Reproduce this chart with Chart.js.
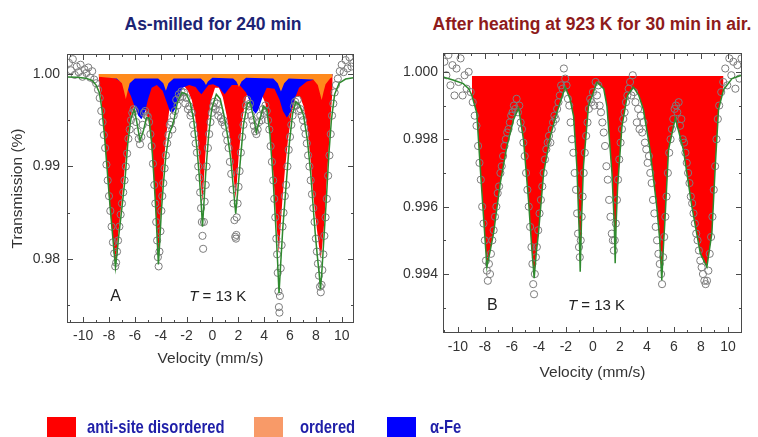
<!DOCTYPE html>
<html>
<head>
<meta charset="utf-8">
<script src="https://cdn.jsdelivr.net/npm/chart.js@4.4.0/dist/chart.umd.min.js"></script>
<style>
  html, body { margin: 0; padding: 0; background: #fff; }
  body { width: 758px; height: 437px; position: relative; overflow: hidden; font-family: 'Liberation Sans', Arial, sans-serif; }
  #wrapA { position: absolute; left: 0; top: 0; width: 380px; height: 437px; }
  #wrapB { position: absolute; left: 380px; top: 0; width: 378px; height: 437px; }
  .title { position: absolute; top: 14px; font-weight: bold; font-size: 17.5px; white-space: nowrap; transform: translateX(-50%); }
  .sw { position: absolute; top: 417px; width: 29px; height: 20px; }
  .lt { position: absolute; top: 416px; font-weight: bold; font-size: 19px; line-height: 22px; color: #1f1fa8; white-space: nowrap; transform: scaleX(0.78); transform-origin: left center; }
</style>
</head>
<body>
<div class="title" style="left:213px;color:#1c2474">As-milled for 240 min</div>
<div class="title" style="left:592px;color:#8e1b1b">After heating at 923 K for 30 min in air.</div>
<div id="wrapA"><canvas id="chartA" width="380" height="437"></canvas></div>
<div id="wrapB"><canvas id="chartB" width="378" height="437"></canvas></div>
<div id="legend"></div>
<script>
const xTicks = [-10, -8, -6, -4, -2, 0, 2, 4, 6, 8, 10];
const xMinor = [-11, -9, -7, -5, -3, -1, 1, 3, 5, 7, 9, 11];
const yTicksA = [0.98, 0.99, 1.00];
const yMinorA = [0.975, 0.985, 0.995];
const yTicksB = [0.994, 0.996, 0.998, 1.000];
const yMinorB = [0.993, 0.995, 0.997, 0.999];

const legendLabels = ['anti-site disordered', 'ordered', 'α-Fe'];
const legendColors = ['#ff0000', '#f89a68', '#0000ff'];

// panel A: anti-site disordered component
const redA = [[-8.8,0.9992],[-8.6,0.9972],[-8.4,0.9942],[-8.2,0.9905],[-8.0,0.9866],[-7.85,0.9843],[-7.7,0.9822],[-7.6,0.9808],[-7.5,0.9796],[-7.4,0.9810],[-7.3,0.9826],[-7.15,0.9845],[-7.0,0.9866],[-6.8,0.9896],[-6.55,0.9932],[-6.3,0.9955],[-6.05,0.9966],[-5.8,0.9970],[-5.5,0.9968],[-5.2,0.9962],[-4.95,0.9950],[-4.75,0.9928],[-4.6,0.9900],[-4.45,0.9868],[-4.3,0.9830],[-4.2,0.9800],[-4.1,0.9825],[-3.95,0.9862],[-3.8,0.9896],[-3.6,0.9930],[-3.35,0.9960],[-3.1,0.9976],[-2.8,0.9985],[-2.5,0.9988],[-2.2,0.9987],[-1.9,0.9982],[-1.6,0.9972],[-1.35,0.9955],[-1.15,0.9932],[-1.0,0.9905],[-0.88,0.9880],[-0.78,0.9862],[-0.68,0.9882],[-0.55,0.9912],[-0.35,0.9948],[-0.1,0.9972],[0.2,0.9985],[0.5,0.9985],[0.8,0.9975],[1.1,0.9955],[1.35,0.9930],[1.55,0.9900],[1.7,0.9880],[1.8,0.9865],[1.9,0.9885],[2.05,0.9915],[2.3,0.9950],[2.6,0.9975],[2.9,0.9984],[3.2,0.9986],[3.5,0.9984],[3.8,0.9978],[4.1,0.9968],[4.4,0.9945],[4.65,0.9905],[4.85,0.9860],[5.0,0.9830],[5.13,0.9806],[5.25,0.9830],[5.4,0.9862],[5.6,0.9895],[5.85,0.9930],[6.15,0.9960],[6.45,0.9975],[6.75,0.9976],[7.05,0.9965],[7.35,0.9940],[7.6,0.9905],[7.8,0.9870],[7.95,0.9848],[8.1,0.9830],[8.25,0.9813],[8.38,0.9800],[8.5,0.9815],[8.65,0.9840],[8.8,0.9875],[9.0,0.9920],[9.15,0.9955],[9.3,0.9985]];

// panel A: alpha-Fe component
const blueA = [[-8.8,0.9998],[-7.5,0.9995],[-6.7,0.9988],[-6.3,0.9976],[-6.0,0.9964],[-5.75,0.9955],[-5.5,0.9951],[-5.25,0.9957],[-5.0,0.9972],[-4.7,0.9985],[-4.3,0.9988],[-3.85,0.9982],[-3.55,0.9970],[-3.3,0.9960],[-3.1,0.9957],[-2.9,0.9962],[-2.65,0.9974],[-2.3,0.9985],[-1.8,0.9988],[-1.3,0.9986],[-1.05,0.9981],[-0.85,0.9978],[-0.65,0.9982],[-0.3,0.9988],[0.05,0.9989],[0.5,0.9986],[0.75,0.9981],[0.95,0.9978],[1.15,0.9982],[1.5,0.9988],[2.1,0.9988],[2.6,0.9980],[2.95,0.9968],[3.15,0.9960],[3.35,0.9957],[3.55,0.9961],[3.85,0.9974],[4.2,0.9985],[4.8,0.9984],[5.2,0.9972],[5.45,0.9960],[5.75,0.9953],[6.0,0.9957],[6.3,0.9971],[6.7,0.9985],[7.3,0.9992],[8.2,0.9995],[9.3,0.9998]];

// panel A: ordered component
const orangeA = [[-8.8,0.9997],[-7.4,0.9995],[-7.0,0.9990],[-6.85,0.9982],[-6.7,0.9973],[-6.55,0.9982],[-6.4,0.9990],[-6.0,0.9995],[-4.2,0.9995],[-3.8,0.9990],[-3.6,0.9982],[-3.4,0.9990],[-3.0,0.9995],[-0.9,0.9995],[-0.65,0.9992],[-0.5,0.9988],[-0.35,0.9992],[0.0,0.9996],[1.6,0.9995],[1.85,0.9992],[2.05,0.9986],[2.25,0.9992],[2.6,0.9996],[4.7,0.9995],[5.05,0.9990],[5.3,0.9981],[5.55,0.9990],[5.9,0.9995],[7.8,0.9994],[8.15,0.9988],[8.3,0.9980],[8.45,0.9972],[8.6,0.9981],[8.75,0.9989],[9.1,0.9995],[9.3,0.9997]];

// panel A: total fit
const fitA = [[-11.2,0.99968],[-10.5,0.99965],[-9.8,0.99955],[-9.3,0.9993],[-9.0,0.9988],[-8.75,0.9980],[-8.55,0.9962],[-8.35,0.9933],[-8.15,0.9898],[-7.95,0.9862],[-7.8,0.9838],[-7.65,0.9814],[-7.5,0.9791],[-7.38,0.9806],[-7.25,0.9825],[-7.1,0.9843],[-6.95,0.9862],[-6.75,0.9888],[-6.55,0.9925],[-6.3,0.9952],[-6.05,0.9962],[-5.85,0.9948],[-5.6,0.9928],[-5.35,0.9938],[-5.1,0.9953],[-4.9,0.9952],[-4.7,0.9925],[-4.55,0.9893],[-4.4,0.9858],[-4.28,0.9823],[-4.18,0.9794],[-4.08,0.9818],[-3.95,0.9852],[-3.8,0.9880],[-3.6,0.9912],[-3.35,0.9935],[-3.15,0.9942],[-2.95,0.9952],[-2.7,0.9970],[-2.35,0.9980],[-2.0,0.9978],[-1.7,0.9968],[-1.45,0.9950],[-1.2,0.9920],[-1.02,0.9890],[-0.88,0.9862],[-0.77,0.9835],[-0.66,0.9860],[-0.52,0.9893],[-0.3,0.9933],[-0.05,0.9963],[0.3,0.9978],[0.6,0.9973],[0.9,0.9955],[1.15,0.9935],[1.4,0.9910],[1.6,0.9880],[1.8,0.9849],[1.95,0.9872],[2.15,0.9905],[2.4,0.9945],[2.7,0.9968],[2.9,0.9970],[3.15,0.9955],[3.4,0.9937],[3.65,0.9950],[3.95,0.9965],[4.2,0.9962],[4.45,0.9935],[4.7,0.9885],[4.9,0.9835],[5.03,0.9800],[5.15,0.9763],[5.28,0.9795],[5.45,0.9835],[5.7,0.9880],[5.95,0.9925],[6.2,0.9957],[6.45,0.9970],[6.75,0.9966],[7.05,0.9955],[7.35,0.9928],[7.6,0.9893],[7.8,0.9855],[7.95,0.9828],[8.1,0.9805],[8.25,0.9785],[8.36,0.9767],[8.48,0.9790],[8.62,0.9822],[8.8,0.9862],[9.0,0.9912],[9.2,0.9950],[9.45,0.9978],[9.8,0.9990],[10.3,0.99945],[10.9,0.9996]];

// panel A: measured spectrum
const dataA = [[-11.1,1.0012],[-10.95,1.0004],[-10.8,1.0016],[-10.65,0.9999],[-10.5,1.0008],[-10.35,1.0002],[-10.2,1.0010],[-10.05,0.9997],[-9.9,1.0005],[-9.75,1.0001],[-9.6,1.0007],[-9.45,0.9996],[-9.3,1.0003],[-9.15,0.9994],[-9.0,0.9990],[-8.85,0.9983],[-8.72,0.9974],[-8.6,0.9960],[-8.5,0.9948],[-8.4,0.9934],[-8.3,0.9920],[-8.2,0.9902],[-8.1,0.9885],[-8.0,0.9868],[-7.9,0.9852],[-7.8,0.9835],[-7.7,0.9818],[-7.6,0.9806],[-7.52,0.9792],[-7.45,0.9796],[-7.38,0.9808],[-7.3,0.9820],[-7.2,0.9835],[-7.1,0.9848],[-7.0,0.9860],[-6.9,0.9872],[-6.8,0.9885],[-6.7,0.9900],[-6.6,0.9914],[-6.5,0.9930],[-6.4,0.9940],[-6.3,0.9950],[-6.2,0.9958],[-6.1,0.9962],[-6.0,0.9960],[-5.9,0.9948],[-5.8,0.9938],[-5.7,0.9930],[-5.6,0.9924],[-5.5,0.9932],[-5.4,0.9945],[-5.3,0.9958],[-5.2,0.9960],[-5.1,0.9955],[-5.0,0.9954],[-4.9,0.9948],[-4.8,0.9935],[-4.7,0.9922],[-4.6,0.9903],[-4.5,0.9880],[-4.42,0.9860],[-4.35,0.9840],[-4.28,0.9820],[-4.22,0.9802],[-4.16,0.9792],[-4.1,0.9808],[-4.02,0.9830],[-3.95,0.9852],[-3.88,0.9868],[-3.8,0.9882],[-3.7,0.9898],[-3.6,0.9912],[-3.5,0.9925],[-3.4,0.9934],[-3.3,0.9945],[-3.2,0.9948],[-3.1,0.9940],[-3.0,0.9955],[-2.9,0.9960],[-2.8,0.9972],[-2.7,0.9966],[-2.6,0.9978],[-2.5,0.9975],[-2.4,0.9981],[-2.3,0.9976],[-2.2,0.9980],[-2.1,0.9968],[-2.0,0.9974],[-1.9,0.9962],[-1.8,0.9965],[-1.7,0.9955],[-1.6,0.9958],[-1.5,0.9945],[-1.4,0.9935],[-1.3,0.9925],[-1.2,0.9915],[-1.1,0.9900],[-1.02,0.9888],[-0.95,0.9872],[-0.88,0.9855],[-0.82,0.9840],[-0.77,0.9825],[-0.72,0.9811],[-0.66,0.9840],[-0.6,0.9862],[-0.52,0.9880],[-0.45,0.9900],[-0.35,0.9920],[-0.25,0.9935],[-0.15,0.9948],[-0.05,0.9958],[0.05,0.9965],[0.15,0.9970],[0.25,0.9962],[0.35,0.9968],[0.45,0.9955],[0.55,0.9960],[0.65,0.9952],[0.75,0.9948],[0.85,0.9950],[0.95,0.9944],[1.05,0.9935],[1.15,0.9928],[1.25,0.9920],[1.35,0.9905],[1.45,0.9892],[1.55,0.9875],[1.62,0.9860],[1.7,0.9842],[1.76,0.9824],[1.82,0.9822],[1.85,0.9826],[1.88,0.9845],[1.95,0.9860],[2.02,0.9878],[2.1,0.9895],[2.2,0.9915],[2.3,0.9932],[2.4,0.9945],[2.5,0.9955],[2.6,0.9966],[2.7,0.9972],[2.8,0.9965],[2.9,0.9968],[3.0,0.9955],[3.1,0.9950],[3.2,0.9944],[3.3,0.9938],[3.4,0.9935],[3.5,0.9940],[3.6,0.9948],[3.7,0.9955],[3.8,0.9950],[3.9,0.9962],[4.0,0.9958],[4.1,0.9966],[4.2,0.9960],[4.3,0.9950],[4.4,0.9940],[4.5,0.9922],[4.6,0.9905],[4.7,0.9885],[4.78,0.9865],[4.86,0.9845],[4.94,0.9822],[5.0,0.9805],[5.05,0.9785],[5.1,0.9765],[5.14,0.9748],[5.18,0.9742],[5.22,0.9760],[5.28,0.9790],[5.35,0.9815],[5.42,0.9835],[5.5,0.9850],[5.6,0.9868],[5.7,0.9880],[5.8,0.9900],[5.9,0.9918],[6.0,0.9932],[6.1,0.9945],[6.2,0.9955],[6.3,0.9965],[6.4,0.9970],[6.5,0.9966],[6.6,0.9972],[6.7,0.9960],[6.8,0.9962],[6.9,0.9955],[7.0,0.9950],[7.1,0.9942],[7.2,0.9935],[7.3,0.9925],[7.4,0.9912],[7.5,0.9900],[7.6,0.9885],[7.7,0.9870],[7.8,0.9855],[7.9,0.9840],[8.0,0.9822],[8.08,0.9808],[8.16,0.9795],[8.24,0.9782],[8.32,0.9770],[8.38,0.9764],[8.44,0.9772],[8.5,0.9788],[8.58,0.9805],[8.66,0.9825],[8.75,0.9845],[8.85,0.9865],[8.95,0.9890],[9.05,0.9912],[9.15,0.9935],[9.25,0.9955],[9.35,0.9968],[9.45,0.9980],[9.55,0.9988],[9.7,0.9995],[9.85,1.0003],[10.0,1.0010],[10.15,1.0002],[10.3,1.0015],[10.45,1.0006],[10.6,1.0018],[10.75,1.0008],[10.9,1.0012]];

// panel B: fit (single anti-site disordered sextet)
const fitB = [[-11.1,0.99985],[-10.3,0.99975],[-9.6,0.99965],[-9.2,0.9995],[-8.96,0.9993],[-8.6,0.99878],[-8.35,0.9972],[-8.1,0.99571],[-7.85,0.99421],[-7.6,0.9947],[-7.36,0.99521],[-6.86,0.9967],[-6.37,0.99779],[-5.88,0.99858],[-5.5,0.99893],[-5.14,0.99799],[-4.77,0.9962],[-4.52,0.99472],[-4.35,0.99388],[-4.2,0.9946],[-4.03,0.99521],[-3.65,0.997],[-3.16,0.99808],[-2.67,0.99879],[-2.05,0.99955],[-1.7,0.9992],[-1.43,0.99868],[-1.19,0.9972],[-1.01,0.99521],[-0.94,0.99407],[-0.85,0.9955],[-0.7,0.9972],[-0.33,0.99898],[0.3,0.99969],[0.8,0.9995],[1.04,0.99898],[1.41,0.997],[1.58,0.9955],[1.65,0.99432],[1.72,0.9955],[1.83,0.9966],[2.15,0.99838],[2.55,0.9993],[3.0,0.99955],[3.4,0.9993],[3.74,0.99888],[4.23,0.99769],[4.73,0.996],[4.95,0.9950],[5.1,0.99382],[5.22,0.9948],[5.35,0.99571],[5.6,0.99769],[6.1,0.99863],[6.7,0.99769],[7.33,0.996],[7.95,0.99462],[8.44,0.99421],[8.81,0.99521],[9.06,0.9972],[9.3,0.99888],[9.67,0.99947],[10.3,0.9998],[11.0,0.9999]];

// panel B: measured spectrum
const dataB = [[-11.0,1.0003],[-10.85,0.9999],[-10.7,1.0005],[-10.55,0.9996],[-10.4,1.0002],[-10.25,0.9993],[-10.1,1.0001],[-9.95,0.9997],[-9.8,1.0004],[-9.65,0.9993],[-9.5,0.9999],[-9.35,0.9995],[-9.2,1.0000],[-9.05,0.9994],[-8.9,0.9991],[-8.75,0.9987],[-8.62,0.9984],[-8.5,0.9978],[-8.4,0.9973],[-8.3,0.9968],[-8.2,0.9960],[-8.1,0.9955],[-8.0,0.9950],[-7.92,0.9944],[-7.85,0.9941],[-7.78,0.9938],[-7.7,0.9943],[-7.62,0.9940],[-7.55,0.9946],[-7.45,0.9950],[-7.35,0.9953],[-7.25,0.9957],[-7.15,0.9960],[-7.05,0.9964],[-6.95,0.9966],[-6.85,0.9970],[-6.75,0.9972],[-6.65,0.9975],[-6.55,0.9978],[-6.45,0.9980],[-6.35,0.9982],[-6.25,0.9983],[-6.15,0.9985],[-6.05,0.9987],[-5.95,0.9988],[-5.85,0.9990],[-5.75,0.9989],[-5.65,0.9992],[-5.55,0.9988],[-5.45,0.9990],[-5.35,0.9985],[-5.25,0.9983],[-5.15,0.9979],[-5.05,0.9975],[-4.95,0.9970],[-4.85,0.9965],[-4.75,0.9960],[-4.65,0.9954],[-4.55,0.9948],[-4.48,0.9943],[-4.42,0.9937],[-4.36,0.9934],[-4.3,0.9940],[-4.22,0.9945],[-4.15,0.9948],[-4.05,0.9953],[-3.95,0.9958],[-3.85,0.9962],[-3.75,0.9966],[-3.65,0.9970],[-3.55,0.9974],[-3.45,0.9977],[-3.35,0.9979],[-3.25,0.9981],[-3.15,0.9979],[-3.05,0.9983],[-2.95,0.9985],[-2.85,0.9987],[-2.75,0.9986],[-2.65,0.9989],[-2.55,0.9991],[-2.45,0.9993],[-2.35,0.9996],[-2.25,0.9995],[-2.15,1.0001],[-2.05,0.9998],[-1.95,0.9996],[-1.85,0.9992],[-1.75,0.9990],[-1.65,0.9985],[-1.55,0.9980],[-1.45,0.9976],[-1.35,0.9970],[-1.25,0.9965],[-1.17,0.9958],[-1.1,0.9952],[-1.03,0.9948],[-0.97,0.9945],[-0.9,0.9950],[-0.83,0.9957],[-0.76,0.9963],[-0.68,0.9970],[-0.6,0.9976],[-0.5,0.9981],[-0.4,0.9985],[-0.3,0.9989],[-0.2,0.9992],[-0.1,0.9991],[0.0,0.9994],[0.1,0.9990],[0.2,0.9997],[0.3,0.9993],[0.4,0.9996],[0.5,0.9990],[0.6,0.9988],[0.7,0.9985],[0.8,0.9982],[0.9,0.9978],[1.0,0.9972],[1.1,0.9968],[1.2,0.9962],[1.3,0.9957],[1.4,0.9952],[1.48,0.9950],[1.55,0.9947],[1.62,0.9950],[1.7,0.9955],[1.78,0.9962],[1.86,0.9968],[1.95,0.9974],[2.05,0.9979],[2.15,0.9983],[2.25,0.9986],[2.35,0.9988],[2.45,0.9991],[2.55,0.9993],[2.65,0.9995],[2.75,0.9997],[2.85,0.9993],[2.95,0.9999],[3.05,0.9994],[3.15,0.9991],[3.25,0.9985],[3.35,0.9989],[3.45,0.9983],[3.55,0.9987],[3.65,0.9982],[3.75,0.9985],[3.85,0.9979],[3.95,0.9977],[4.05,0.9973],[4.15,0.9975],[4.25,0.9970],[4.35,0.9967],[4.45,0.9962],[4.55,0.9958],[4.65,0.9954],[4.75,0.9950],[4.85,0.9946],[4.95,0.9943],[5.05,0.9940],[5.12,0.9937],[5.2,0.9945],[5.28,0.9951],[5.36,0.9957],[5.45,0.9963],[5.55,0.9970],[5.65,0.9976],[5.75,0.9980],[5.85,0.9983],[5.95,0.9986],[6.05,0.9989],[6.15,0.9990],[6.25,0.9988],[6.35,0.9991],[6.45,0.9984],[6.55,0.9986],[6.65,0.9980],[6.75,0.9979],[6.85,0.9976],[6.95,0.9973],[7.05,0.9970],[7.15,0.9967],[7.25,0.9963],[7.35,0.9961],[7.45,0.9958],[7.55,0.9955],[7.65,0.9952],[7.75,0.9950],[7.85,0.9947],[7.95,0.9944],[8.05,0.9942],[8.15,0.9940],[8.25,0.9938],[8.35,0.9937],[8.45,0.9938],[8.55,0.9941],[8.65,0.9946],[8.75,0.9951],[8.85,0.9957],[8.95,0.9965],[9.05,0.9972],[9.15,0.9980],[9.25,0.9986],[9.35,0.9990],[9.5,0.9994],[9.65,0.9997],[9.8,1.0001],[9.95,0.9996],[10.1,1.0004],[10.25,0.9999],[10.4,1.0003],[10.55,0.9995],[10.7,1.0002],[10.85,0.9998],[11.0,1.0004]];

const redB = fitB.filter(p => p[0] >= -8.96 && p[0] <= 9.67);

const FONT = "'Liberation Sans', Arial, sans-serif";

function pts(arr) {
    return arr.map(p => ({ x: p[0], y: p[1] }));
}

function areaSet(arr, color, base, order) {
    return { data: pts(arr), backgroundColor: color, borderWidth: 0, pointRadius: 0, fill: { value: base }, order: order };
}

function dataSet(arr) {
    return { data: pts(arr), showLine: false, pointRadius: 3.6, borderColor: '#808080', borderWidth: 1,
        pointBackgroundColor: 'rgba(0,0,0,0)', pointBorderColor: '#7d7d7d', order: 2 };
}

function fitSet(arr) {
    return { data: pts(arr), borderColor: '#2f8a2f', borderWidth: 1.5, pointRadius: 0, fill: false, tension: 0, order: 1 };
}

// box, inward ticks and the panel labels
const framePlugin = {
    id: 'frame',
    afterDraw(chart, args, o) {
        const { ctx, chartArea: a, scales: { x, y } } = chart;
        ctx.save();
        ctx.strokeStyle = '#4a4a4a';
        ctx.lineWidth = 1;
        ctx.strokeRect(a.left + 0.5, a.top + 0.5, a.right - a.left - 1, a.bottom - a.top - 1);
        const seg = (x1, y1, x2, y2) => { ctx.beginPath(); ctx.moveTo(x1, y1); ctx.lineTo(x2, y2); ctx.stroke(); };
        const xt = (vals, len) => vals.forEach(v => {
            if (v < x.min || v > x.max) return;
            const p = Math.round(x.getPixelForValue(v)) + 0.5;
            seg(p, a.bottom, p, a.bottom - len);
            seg(p, a.top, p, a.top + len);
        });
        const yt = (vals, len) => vals.forEach(v => {
            if (v < y.min || v > y.max) return;
            const p = Math.round(y.getPixelForValue(v)) + 0.5;
            seg(a.left, p, a.left + len, p);
            seg(a.right, p, a.right - len, p);
        });
        xt(o.xMajor, 6); xt(o.xMinor, 3);
        yt(o.yMajor, 6); yt(o.yMinor, 3);

        ctx.fillStyle = '#222';
        ctx.textBaseline = 'middle';
        ctx.textAlign = 'left';
        const ly = y.getPixelForValue(o.labelY);
        ctx.font = '16px ' + FONT;
        ctx.fillText(o.letter, x.getPixelForValue(o.letterX), ly);
        let tx = x.getPixelForValue(o.tempX);
        ctx.font = 'italic 15px ' + FONT;
        ctx.fillText('T', tx, ly);
        tx += ctx.measureText('T').width;
        ctx.font = '15px ' + FONT;
        ctx.fillText(' = 13 K', tx, ly);
        ctx.restore();
    }
};

function makeChart(id, p) {
    return new Chart(document.getElementById(id), {
        type: 'line',
        data: { datasets: p.datasets },
        plugins: [framePlugin],
        options: {
            responsive: false,
            animation: false,
            events: [],
            layout: { padding: p.padding },
            plugins: {
                legend: { display: false },
                tooltip: { enabled: false },
                frame: p.frame
            },
            scales: {
                x: {
                    type: 'linear', min: p.xMin, max: p.xMax,
                    grid: { display: false, drawTicks: false }, border: { display: false },
                    afterBuildTicks: s => { s.ticks = xTicks.map(v => ({ value: v })); },
                    afterFit: s => { s.height = p.xHeight; },
                    ticks: { color: '#333', font: { size: 14, family: FONT }, padding: p.xPad, maxRotation: 0, autoSkip: false, callback: v => String(v) },
                    title: { display: true, text: 'Velocity (mm/s)', color: '#333', font: { size: 15.5, family: FONT }, padding: 0 }
                },
                y: {
                    type: 'linear', min: p.yMin, max: p.yMax,
                    grid: { display: false, drawTicks: false }, border: { display: false },
                    afterBuildTicks: s => { s.ticks = p.yTicks.map(v => ({ value: v })); },
                    afterFit: s => { s.width = p.yWidth; },
                    ticks: { color: '#333', font: { size: 14, family: FONT }, padding: p.yPad, autoSkip: false, callback: v => v.toFixed(p.digits) },
                    title: { display: p.yTitle !== '', text: p.yTitle, color: '#333', font: { size: 15.5, family: FONT }, padding: 0 }
                }
            }
        }
    });
}

makeChart('chartA', {
    datasets: [
        fitSet(fitA),
        dataSet(dataA),
        areaSet(orangeA, '#ff8a1c', 1.0, 3),
        areaSet(blueA, '#0000ff', 1.0, 4),
        areaSet(redA, '#ff0000', 1.0, 5)
    ],
    padding: { left: 8, right: 26, top: 54, bottom: 69 },
    xMin: -11.25, xMax: 10.95, yMin: 0.97308, yMax: 1.00216,
    xHeight: 45, xPad: 5, yWidth: 59, yPad: 7,
    yTicks: yTicksA, digits: 2, yTitle: 'Transmission (%)',
    frame: { xMajor: xTicks, xMinor: xMinor, yMajor: yTicksA, yMinor: yMinorA, letter: 'A', letterX: -7.9, tempX: -1.8, labelY: 0.9759 }
});

makeChart('chartB', {
    datasets: [
        fitSet(fitB),
        dataSet(dataB),
        areaSet(redB, '#ff0000', 0.99988, 5)
    ],
    padding: { left: 0, right: 16, top: 53, bottom: 55 },
    xMin: -11.1, xMax: 11.04, yMin: 0.99225, yMax: 1.00056,
    xHeight: 49, xPad: 6, yWidth: 63, yPad: 5,
    yTicks: yTicksB, digits: 3, yTitle: '',
    frame: { xMajor: xTicks, xMinor: xMinor, yMajor: yTicksB, yMinor: yMinorB, letter: 'B', letterX: -7.85, tempX: -1.85, labelY: 0.99307 }
});

// shared legend under both panels
const legendLeft = [[47, 87], [254, 300], [387, 430]];
const legend = document.getElementById('legend');
legendLabels.forEach((label, i) => {
    const sw = document.createElement('div');
    sw.className = 'sw';
    sw.style.left = legendLeft[i][0] + 'px';
    sw.style.background = legendColors[i];
    legend.appendChild(sw);
    const t = document.createElement('div');
    t.className = 'lt';
    t.style.left = legendLeft[i][1] + 'px';
    t.textContent = label;
    legend.appendChild(t);
});
</script>
</body>
</html>
